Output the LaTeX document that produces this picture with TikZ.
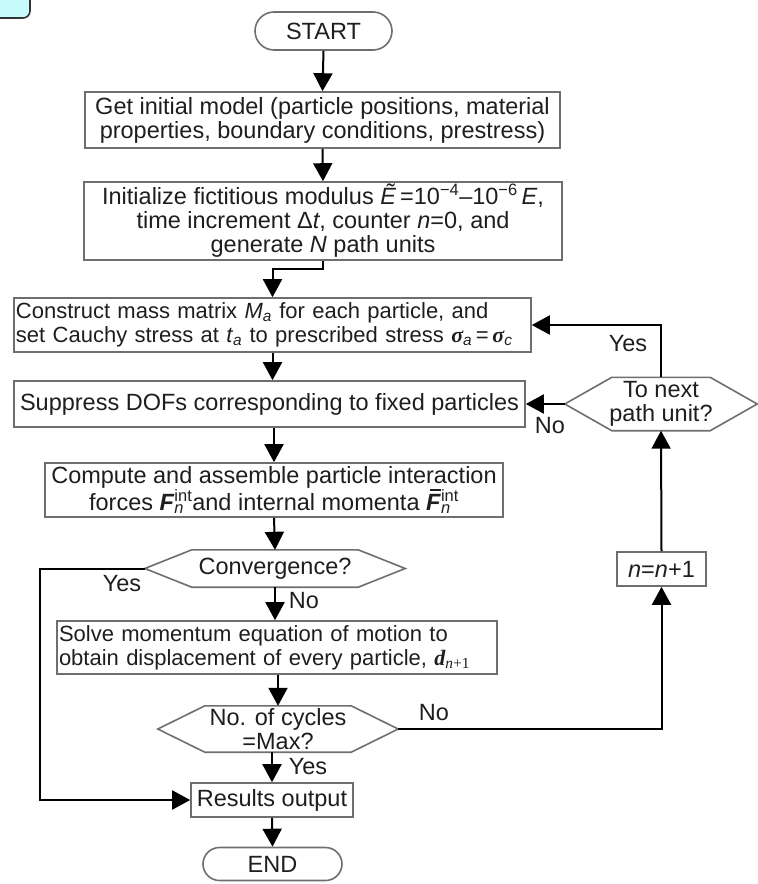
\documentclass[tikz,border=0pt]{standalone}
\usepackage{fontspec}
\setmainfont{Liberation Sans}
\newfontfamily\serifgr{Liberation Serif}
\usetikzlibrary{arrows.meta,shapes.misc,calc}
\definecolor{boxgray}{HTML}{6E6E6E}
\definecolor{txt}{HTML}{1E1E1E}
\definecolor{cornercyan}{HTML}{C8FCFC}
\newcommand{\fsz}{\fontsize{23.5}{24}\selectfont}
\newcommand{\fszs}{\fontsize{22}{24}\selectfont}
\newcommand{\supsubx}[2]{\rlap{\textsubscript{#2}}\textsuperscript{#1}}
\newcommand{\bsig}{{\serifgr\bfseries\itshape σ}}
\newcommand{\barF}{\makebox[0pt][l]{\hspace{4pt}\rule[19.5pt]{11pt}{1.3pt}}\textbf{\textit{F}}}
\newcommand{\hexagonof}[2]{%
  \draw[hexline] (#1.west) -- ([xshift=#2]#1.north west) -- ([xshift=-#2]#1.north east)
    -- (#1.east) -- ([xshift=-#2]#1.south east) -- ([xshift=#2]#1.south west) -- cycle;}
\begin{document}
\begin{tikzpicture}[x=1pt,y=-1pt,
  box/.style={draw=boxgray, line width=1.6pt, rectangle, inner sep=0pt, align=center,
    font=\fsz, text=txt},
  lbox/.style={box, align=left, inner xsep=2pt, font=\fszs},
  term/.style={draw=boxgray, line width=1.6pt, rounded rectangle, inner sep=0pt,
    font=\fsz, text=txt},
  hexnode/.style={rectangle, inner sep=0pt, align=center, font=\fsz, text=txt},
  hexline/.style={draw=boxgray, line width=1.6pt, line join=miter},
  arr/.style={line width=2pt, draw=black, -{Triangle[length=18pt,width=19pt]}},
  lbl/.style={font=\fsz, text=txt, inner sep=0pt}]
\useasboundingbox (0,0) rectangle (758,884);
% corner fragment
\draw[fill=cornercyan, draw=black!80, line width=1.6pt, rounded corners=7pt] (-20,-20) rectangle (30,18);

\node[term, minimum width=137pt, minimum height=38pt] (start) at (323.5,31) {START};
\node[box, minimum width=475pt, minimum height=56pt] (b1) at (322.5,120)
  {Get initial model (particle positions, material\\properties, boundary conditions, prestress)};
\node[box, minimum width=478pt, minimum height=78pt] (b2) at (323,221)
  {Initialize fictitious modulus \textit{Ẽ}\,=10\textsuperscript{−4}–10\textsuperscript{−6}\,\textit{E},\\
   time increment Δ\textit{t}, counter \textit{n}=0, and\\
   generate \textit{N} path units};
\node[lbox, text width=513pt, minimum height=54pt] (b3) at (272.5,325)
  {Construct mass matrix \textit{M}\textsubscript{\textit{a}} for each particle, and\\
   set Cauchy stress at \textit{t}\textsubscript{\textit{a}} to prescribed stress \bsig\textsubscript{\textit{a}}\,=\,\bsig\textsubscript{\textit{c}}};
\node[box, minimum width=511pt, minimum height=46pt] (b4) at (269.5,404)
  {Suppress DOFs corresponding to fixed particles};
\node[box, minimum width=458pt, minimum height=54pt] (b5) at (274,490)
  {Compute and assemble particle interaction\\
   forces \textbf{\textit{F}}\supsubx{int}{\textit{n}}and internal momenta \barF\supsubx{int}{\textit{n}}};
\node[hexnode, minimum width=260pt, minimum height=37pt] (conv) at (275,568.5) {Convergence?};
\hexagonof{conv}{47pt}
\node[lbox, text width=436pt, minimum height=53pt] (b6) at (277,647.5)
  {Solve momentum equation of motion to\\
   obtain displacement of every particle, {\serifgr\bfseries\itshape d}\textsubscript{{\serifgr\itshape n}{\serifgr +1}}};
\node[hexnode, minimum width=240pt, minimum height=46pt] (cyc) at (278,729) {No. of cycles\\=Max?};
\hexagonof{cyc}{47pt}
\node[box, minimum width=162pt, minimum height=34pt] (res) at (272,800) {Results output};
\node[term, minimum width=139pt, minimum height=33pt] (end) at (272.5,864) {END};
\node[hexnode, minimum width=192pt, minimum height=53pt] (nxt) at (661,404) {To next\\path unit?};
\hexagonof{nxt}{47pt}
\node[box, minimum width=89pt, minimum height=34pt] (nb) at (661.5,569) {\textit{n}=\textit{n}+1};

% connectors
\draw[arr] (start.south) -- (b1.north);
\draw[arr] (b1.south) -- (b2.north);
\draw[arr] (b2.south) -- ++(0,8) -| (b3.north);
\draw[arr] (b3.south) -- (b3.south |- b4.north);
\draw[arr] (b4.south -| b5.north) -- (b5.north);
\draw[arr] (b5.south) -- (conv.north);
\draw[arr] (conv.south) -- (conv.south |- b6.north);
\draw[arr] (b6.south -| cyc.north) -- (cyc.north);
\draw[arr] (cyc.south -| res.north) -- (res.north);
\draw[arr] (res.south) -- (end.north);
\draw[arr] (conv.west) -- ++(-105,0) |- (res.west);
\draw[arr] (cyc.east) -| (nb.south);
\draw[arr] (nb.north) -- (nxt.south);
\draw[arr] (nxt.north) |- (b3.east);
\draw[arr] (nxt.west) -- (b4.east);

% labels
\node[lbl] (ly1) at (628,344) {Yes};
\node[lbl] (ln1) at (550,426) {No};
\node[lbl] (ly2) at (122,584) {Yes};
\node[lbl] (ln2) at (304,601) {No};
\node[lbl] (ln3) at (434,713) {No};
\node[lbl] (ly3) at (308,767) {Yes};
\end{tikzpicture}
\end{document}
